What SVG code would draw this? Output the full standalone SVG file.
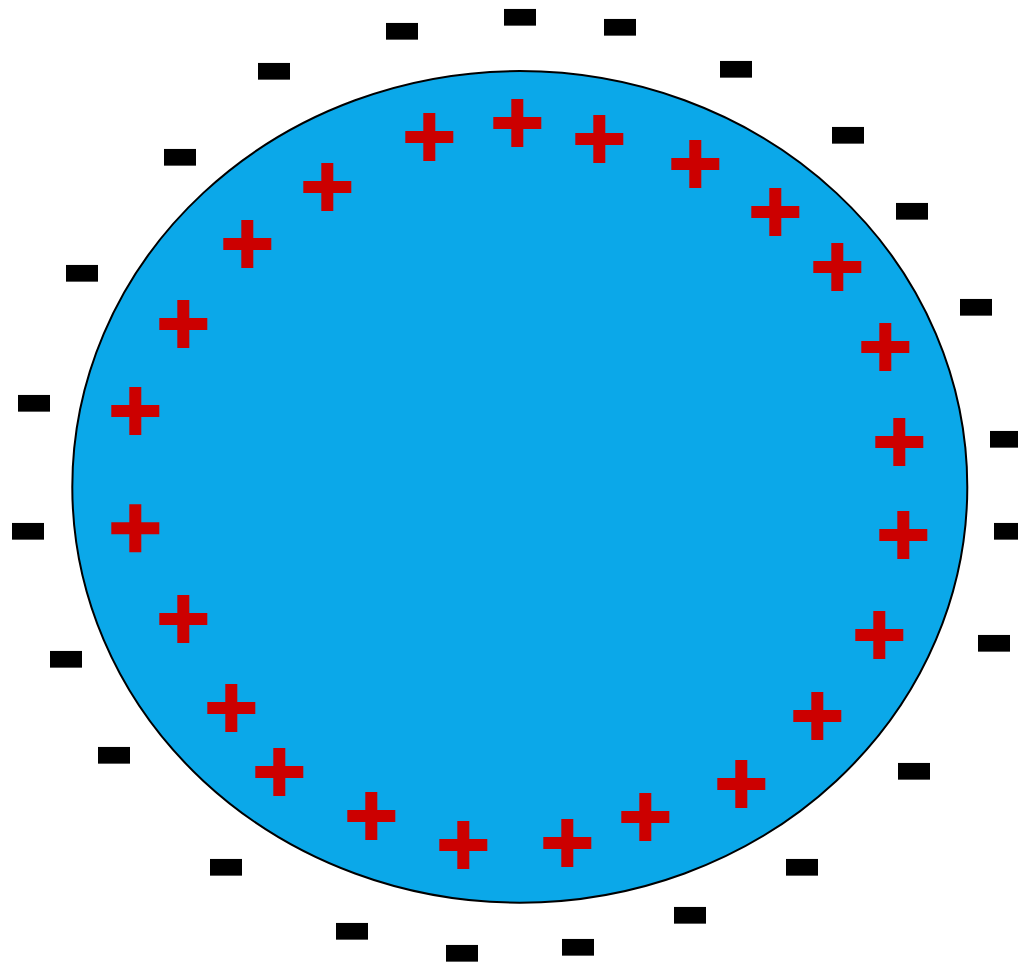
<svg xmlns="http://www.w3.org/2000/svg" xmlns:xlink="http://www.w3.org/1999/xlink" width="1018" height="965" viewBox="0 0 1018 965">
  <style>
    .body { fill: #0BA8E9; stroke: #000000; stroke-width: 2; }
    .plus { fill: #CC0000; }
    .minus { fill: #000000; }
  </style>
  <defs>
    <path id="p" class="plus" d="M-6,-24 H6 V-6 H24 V6 H6 V24 H-6 V6 H-24 V-6 H-6 Z"/>
    <rect id="m" class="minus" x="-16" y="-8.35" width="32" height="16.7"/>
  </defs>
  <rect x="0" y="0" width="1018" height="965" fill="#ffffff"/>
  <g id="sphere">
    <ellipse class="body" cx="519.8" cy="486.9" rx="447.5" ry="415.8"/>
  </g>
  <g id="positive-charges">
    <use xlink:href="#p" x="429.3" y="137"/>
    <use xlink:href="#p" x="517.3" y="123"/>
    <use xlink:href="#p" x="599.3" y="139"/>
    <use xlink:href="#p" x="695.3" y="164"/>
    <use xlink:href="#p" x="775.3" y="212"/>
    <use xlink:href="#p" x="837.3" y="267"/>
    <use xlink:href="#p" x="885.3" y="347"/>
    <use xlink:href="#p" x="899.3" y="442"/>
    <use xlink:href="#p" x="903.3" y="535"/>
    <use xlink:href="#p" x="879.3" y="635"/>
    <use xlink:href="#p" x="817.3" y="716"/>
    <use xlink:href="#p" x="741.3" y="784"/>
    <use xlink:href="#p" x="645.3" y="817"/>
    <use xlink:href="#p" x="567.3" y="843"/>
    <use xlink:href="#p" x="463.3" y="845"/>
    <use xlink:href="#p" x="371.3" y="816"/>
    <use xlink:href="#p" x="279.3" y="772"/>
    <use xlink:href="#p" x="231.3" y="708"/>
    <use xlink:href="#p" x="183.3" y="619"/>
    <use xlink:href="#p" x="135.3" y="528.3"/>
    <use xlink:href="#p" x="135.3" y="411"/>
    <use xlink:href="#p" x="183.3" y="324"/>
    <use xlink:href="#p" x="247.3" y="244"/>
    <use xlink:href="#p" x="327.3" y="187"/>
  </g>
  <g id="negative-charges">
    <use xlink:href="#m" x="402" y="31.3"/>
    <use xlink:href="#m" x="520" y="17.3"/>
    <use xlink:href="#m" x="620" y="27.3"/>
    <use xlink:href="#m" x="736" y="69.3"/>
    <use xlink:href="#m" x="848" y="135.3"/>
    <use xlink:href="#m" x="912" y="211.3"/>
    <use xlink:href="#m" x="976" y="307.3"/>
    <use xlink:href="#m" x="1006" y="439.3"/>
    <use xlink:href="#m" x="1010" y="531.3"/>
    <use xlink:href="#m" x="994" y="643.3"/>
    <use xlink:href="#m" x="914" y="771.3"/>
    <use xlink:href="#m" x="802" y="867.3"/>
    <use xlink:href="#m" x="690" y="915.3"/>
    <use xlink:href="#m" x="578" y="947.3"/>
    <use xlink:href="#m" x="462" y="953.3"/>
    <use xlink:href="#m" x="352" y="931.3"/>
    <use xlink:href="#m" x="226" y="867.3"/>
    <use xlink:href="#m" x="114" y="755.3"/>
    <use xlink:href="#m" x="66" y="659.3"/>
    <use xlink:href="#m" x="28" y="531.3"/>
    <use xlink:href="#m" x="34" y="403.3"/>
    <use xlink:href="#m" x="82" y="273.3"/>
    <use xlink:href="#m" x="180" y="157.3"/>
    <use xlink:href="#m" x="274" y="71.3"/>
  </g>
</svg>
